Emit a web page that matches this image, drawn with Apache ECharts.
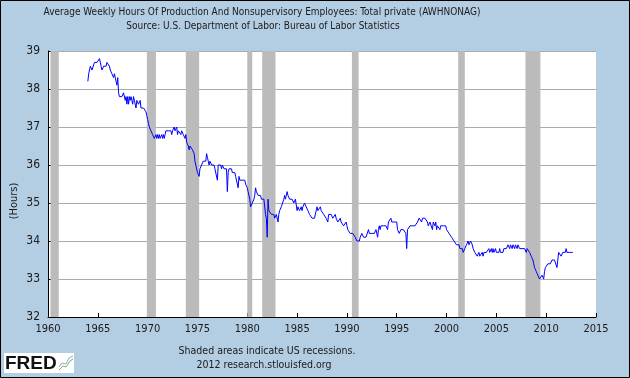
<!DOCTYPE html>
<html>
<head>
<meta charset="utf-8">
<script src="https://cdn.jsdelivr.net/npm/echarts@6/dist/echarts.min.js"></script>
<style>
  html, body { margin: 0; padding: 0; background: #b3cde3; }
  #chart { width: 630px; height: 378px; }
</style>
</head>
<body>
<div id="chart"></div>
<script>
// monthly values, one row per year, starting Jan 1964
var firstYear = 1964;
var hours = [
  [38.2, 38.4, 38.5, 38.6, 38.6, 38.5, 38.5, 38.5, 38.7, 38.7, 38.7, 38.7], // 1964
  [38.7, 38.7, 38.8, 38.8, 38.6, 38.5, 38.5, 38.6, 38.6, 38.6, 38.6, 38.7],
  [38.7, 38.7, 38.6, 38.5, 38.5, 38.4, 38.4, 38.3, 38.4, 38.3, 38.2, 38.1],
  [38.3, 37.9, 37.8, 37.8, 37.8, 37.8, 37.8, 37.9, 37.9, 37.7, 37.8, 37.6],
  [37.8, 37.6, 37.8, 37.7, 37.8, 37.7, 37.6, 37.8, 37.7, 37.7, 37.5, 37.7],
  [37.7, 37.6, 37.6, 37.7, 37.5, 37.5, 37.5, 37.5, 37.5, 37.5, 37.4, 37.3], // 1969
  [37.2, 37.1, 37.0, 37.0, 36.9, 36.9, 36.8, 36.8, 36.7, 36.7, 36.8, 36.7],
  [36.8, 36.7, 36.8, 36.7, 36.7, 36.8, 36.7, 36.8, 36.7, 36.8, 36.9, 36.9],
  [36.9, 36.9, 36.9, 36.9, 36.9, 36.8, 36.9, 36.9, 37.0, 36.9, 36.9, 37.0],
  [36.8, 36.9, 36.9, 36.9, 36.8, 36.9, 36.9, 36.8, 36.8, 36.7, 36.8, 36.6],
  [36.6, 36.5, 36.4, 36.5, 36.5, 36.5, 36.4, 36.4, 36.3, 36.1, 36.1, 36.1], // 1974
  [35.8, 35.8, 35.7, 35.9, 35.9, 36.0, 36.0, 36.1, 36.1, 36.1, 36.1, 36.3],
  [36.2, 36.1, 36.0, 36.1, 36.1, 36.0, 36.0, 36.0, 36.0, 35.9, 35.9, 35.9],
  [35.6, 36.0, 36.0, 36.0, 36.0, 35.9, 36.0, 36.0, 35.9, 35.9, 35.9, 35.9],
  [35.3, 35.8, 35.9, 35.9, 35.9, 35.9, 35.8, 35.8, 35.8, 35.8, 35.7, 35.7],
  [35.7, 35.4, 35.7, 35.6, 35.6, 35.6, 35.6, 35.6, 35.6, 35.6, 35.5, 35.5], // 1979
  [35.4, 35.3, 35.3, 35.1, 34.9, 34.9, 35.0, 35.0, 35.1, 35.2, 35.4, 35.3],
  [35.3, 35.2, 35.2, 35.2, 35.2, 35.1, 35.1, 35.1, 35.1, 35.1, 34.7, 34.6],
  [34.1, 35.1, 34.8, 34.8, 34.8, 34.7, 34.7, 34.7, 34.7, 34.6, 34.6, 34.7],
  [34.7, 34.5, 34.7, 34.8, 34.8, 34.9, 34.9, 34.9, 35.1, 35.2, 35.1, 35.2],
  [35.3, 35.2, 35.2, 35.1, 35.1, 35.1, 35.1, 35.1, 35.0, 35.0, 35.1, 35.1], // 1984
  [34.8, 34.9, 34.9, 34.8, 34.8, 34.9, 34.8, 34.9, 34.9, 35.0, 35.0, 34.9],
  [34.9, 34.8, 34.8, 34.7, 34.7, 34.7, 34.6, 34.6, 34.6, 34.6, 34.6, 34.8],
  [34.9, 34.8, 34.8, 34.8, 34.9, 34.8, 34.8, 34.8, 34.7, 34.7, 34.7, 34.6],
  [34.6, 34.5, 34.7, 34.7, 34.7, 34.7, 34.7, 34.6, 34.6, 34.6, 34.7, 34.6],
  [34.6, 34.5, 34.5, 34.5, 34.6, 34.5, 34.5, 34.5, 34.4, 34.4, 34.4, 34.5], // 1989
  [34.4, 34.3, 34.3, 34.3, 34.2, 34.2, 34.2, 34.2, 34.2, 34.2, 34.1, 34.1],
  [34.0, 34.0, 34.0, 34.0, 34.1, 34.1, 34.2, 34.2, 34.1, 34.1, 34.1, 34.1],
  [34.1, 34.1, 34.3, 34.2, 34.2, 34.2, 34.2, 34.2, 34.2, 34.2, 34.2, 34.3],
  [34.3, 34.1, 34.3, 34.4, 34.3, 34.4, 34.4, 34.4, 34.4, 34.4, 34.4, 34.4],
  [34.4, 34.3, 34.5, 34.5, 34.5, 34.6, 34.5, 34.5, 34.5, 34.5, 34.5, 34.5], // 1994
  [34.5, 34.3, 34.3, 34.2, 34.2, 34.3, 34.3, 34.3, 34.3, 34.3, 34.3, 34.2],
  [33.8, 34.3, 34.3, 34.3, 34.4, 34.4, 34.4, 34.4, 34.4, 34.4, 34.4, 34.4],
  [34.4, 34.5, 34.5, 34.6, 34.6, 34.6, 34.5, 34.6, 34.6, 34.6, 34.6, 34.6],
  [34.6, 34.5, 34.4, 34.4, 34.5, 34.5, 34.5, 34.3, 34.5, 34.5, 34.4, 34.5],
  [34.3, 34.4, 34.4, 34.4, 34.3, 34.4, 34.4, 34.4, 34.4, 34.4, 34.4, 34.4], // 1999
  [34.3, 34.3, 34.3, 34.2, 34.2, 34.2, 34.1, 34.1, 34.1, 34.0, 34.0, 34.0],
  [33.9, 33.9, 33.9, 33.9, 33.8, 33.8, 33.8, 33.8, 33.7, 33.7, 33.8, 33.8],
  [33.9, 33.9, 34.0, 33.9, 33.9, 34.0, 34.0, 33.9, 33.8, 33.8, 33.7, 33.7],
  [33.7, 33.6, 33.6, 33.7, 33.6, 33.6, 33.6, 33.7, 33.6, 33.7, 33.7, 33.7],
  [33.7, 33.7, 33.7, 33.8, 33.7, 33.7, 33.8, 33.7, 33.8, 33.7, 33.7, 33.8], // 2004
  [33.7, 33.7, 33.7, 33.7, 33.8, 33.7, 33.7, 33.7, 33.7, 33.8, 33.8, 33.8],
  [33.8, 33.8, 33.9, 33.9, 33.8, 33.9, 33.9, 33.8, 33.9, 33.9, 33.8, 33.9],
  [33.9, 33.8, 33.9, 33.9, 33.8, 33.8, 33.8, 33.8, 33.8, 33.8, 33.8, 33.8],
  [33.7, 33.8, 33.8, 33.8, 33.7, 33.7, 33.6, 33.6, 33.5, 33.4, 33.3, 33.3],
  [33.2, 33.2, 33.1, 33.1, 33.0, 33.0, 33.0, 33.1, 33.1, 33.0, 33.2, 33.3], // 2009
  [33.3, 33.3, 33.4, 33.4, 33.4, 33.4, 33.4, 33.5, 33.5, 33.5, 33.5, 33.5],
  [33.5, 33.3, 33.5, 33.7, 33.7, 33.7, 33.6, 33.6, 33.7, 33.7, 33.7, 33.7],
  [33.8, 33.7, 33.7, 33.7, 33.7, 33.7, 33.7, 33.7, 33.7]                    // 2012
];

// recession start / end (decimal years)
var recessions = [
  [1960.25, 1961.08], [1969.92, 1970.83], [1973.83, 1975.17], [1980.0, 1980.5],
  [1981.5, 1982.83], [1990.5, 1991.17], [2001.17, 2001.83], [2007.92, 2009.42]
];

var titleLines = [
  'Average Weekly Hours Of Production And Nonsupervisory Employees: Total private (AWHNONAG)',
  'Source: U.S. Department of Labor: Bureau of Labor Statistics'
];
var footLines = ['Shaded areas indicate US recessions.', '2012 research.stlouisfed.org'];

var FONT = "'DejaVu Sans Condensed', 'DejaVu Sans', sans-serif";

// build [year, value] pairs
var seriesData = [];
hours.forEach(function (row, i) {
  row.forEach(function (v, m) {
    seriesData.push([firstYear + i + m / 12, v]);
  });
});

const myChart = echarts.init(document.getElementById('chart'));
const option = {
  backgroundColor: '#b3cde3',
  animation: false,
  grid: {
    left: 48,
    top: 51,
    right: 34,
    bottom: 61,
    show: true,
    backgroundColor: '#ffffff',
    borderWidth: 0
  },
  xAxis: {
    type: 'value',
    min: 1960,
    max: 2015,
    interval: 5,
    axisLine: { show: true, onZero: false, lineStyle: { color: '#000', width: 1 } },
    axisTick: { show: true, inside: true, length: 4, lineStyle: { color: '#000' } },
    axisLabel: {
      color: '#1a1a1a', fontFamily: FONT, fontSize: 11, margin: 7,
      formatter: function (v) { return String(v); }
    },
    splitLine: { show: false }
  },
  yAxis: {
    type: 'value',
    min: 32,
    max: 39,
    interval: 1,
    axisLine: { show: true, lineStyle: { color: '#000', width: 1 } },
    axisTick: { show: true, inside: true, length: 5, lineStyle: { color: '#000' } },
    axisLabel: { color: '#1a1a1a', fontFamily: FONT, fontSize: 12, margin: 8 },
    splitLine: { show: true, lineStyle: { color: '#aaaaaa', width: 1 } }
  },
  series: [{
    name: 'AWHNONAG',
    type: 'line',
    data: seriesData,
    showSymbol: false,
    symbol: 'none',
    lineStyle: { color: '#0000ff', width: 1 },
    markArea: {
      silent: true,
      itemStyle: { color: '#bbbbbb', opacity: 1 },
      data: recessions.map(function (r) {
        return [{ xAxis: r[0] }, { xAxis: r[1] }];
      })
    },
    z: 3
  }],
  graphic: [
    { type: 'text', x: 262, y: 12, style: { text: titleLines[0], font: '10px ' + FONT, fill: '#1a1a1a', textAlign: 'center', textVerticalAlign: 'middle' } },
    { type: 'text', x: 263, y: 26, style: { text: titleLines[1], font: '10px ' + FONT, fill: '#1a1a1a', textAlign: 'center', textVerticalAlign: 'middle' } },
    { type: 'text', x: 14, y: 201, rotation: Math.PI / 2, style: { text: '(Hours)', font: '11px ' + FONT, fill: '#1a1a1a', textAlign: 'center', textVerticalAlign: 'middle' } },
    { type: 'text', x: 267, y: 351, style: { text: footLines[0], font: '10.5px ' + FONT, fill: '#1a1a1a', textAlign: 'center', textVerticalAlign: 'middle' } },
    { type: 'text', x: 264, y: 365, style: { text: footLines[1], font: '10.5px ' + FONT, fill: '#1a1a1a', textAlign: 'center', textVerticalAlign: 'middle' } },
    // FRED logo box
    { type: 'rect', shape: { x: 4, y: 353, width: 70, height: 20 }, style: { fill: '#ffffff' } },
    { type: 'text', x: 5, y: 364, style: { text: 'FRED', font: 'bold 19px "Liberation Sans", Arial, sans-serif', fill: '#111', textVerticalAlign: 'middle' } },
    { type: 'polyline', shape: { points: [[59, 370], [63, 366], [66, 367], [70, 361], [73, 359]] }, style: { stroke: '#7fb069', lineWidth: 1, fill: null } },
    { type: 'polyline', shape: { points: [[59, 367], [62, 363], [66, 364], [69, 358], [73, 356]] }, style: { stroke: '#8fa9c9', lineWidth: 1, fill: null } },
    // outer frame
    { type: 'rect', shape: { x: 0.5, y: 0.5, width: 629, height: 377 }, style: { fill: null, stroke: '#000', lineWidth: 1 }, z: 100 }
  ]
};
myChart.setOption(option);
window.addEventListener('resize', function () {
  myChart.resize();
});
</script>
</body>
</html>
